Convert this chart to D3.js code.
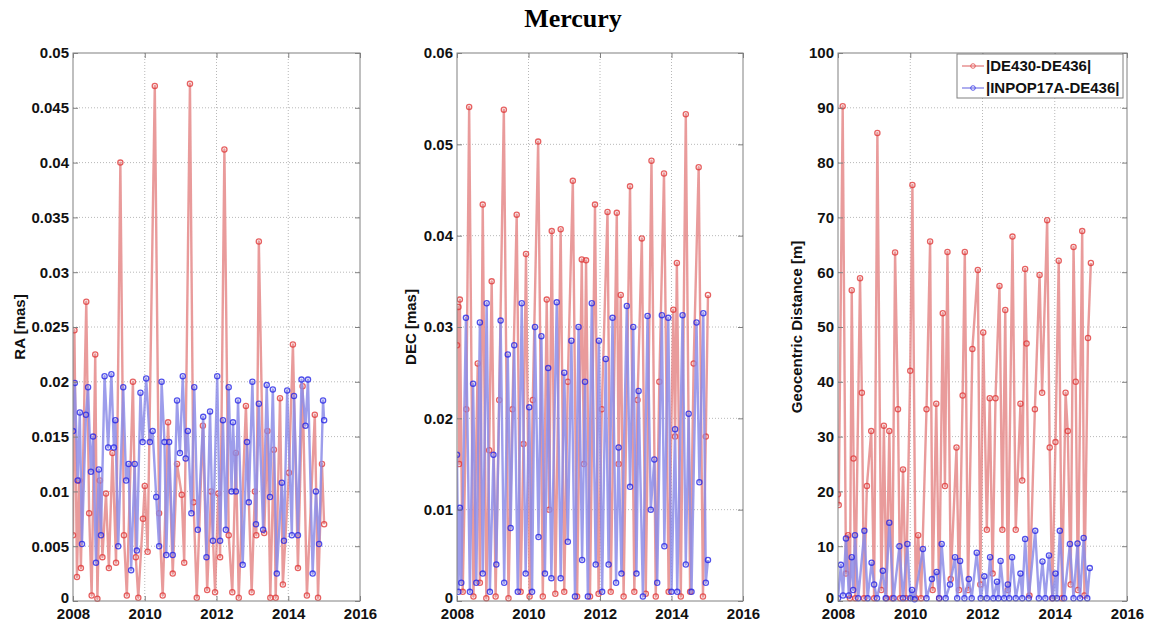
<!DOCTYPE html>
<html>
<head>
<meta charset="utf-8">
<script src="https://cdn.jsdelivr.net/npm/d3@7"></script>
<style>
  body { margin: 0; background: #fff; }
  svg { display: block; }
  .tick-label { font-family: "Liberation Sans", Arial, sans-serif; font-size: 15px; font-weight: bold; fill: #111; }
  .ylab { font-family: "Liberation Sans", Arial, sans-serif; font-size: 15px; font-weight: bold; fill: #111; }
</style>
</head>
<body>
<div id="chart"></div>
<script>
// ── Data: [year, value] turning points ───────────────────────────
const years = [2008, 2010, 2012, 2014, 2016];
const seriesNames = ["|DE430-DE436|", "|INPOP17A-DE436|"];

const raTicks   = [0, 0.005, 0.01, 0.015, 0.02, 0.025, 0.03, 0.035, 0.04, 0.045, 0.05];
const decTicks  = [0, 0.01, 0.02, 0.03, 0.04, 0.05, 0.06];
const distTicks = [0, 10, 20, 30, 40, 50, 60, 70, 80, 90, 100];

const raRed = [
  [2008.00,0.0060],[2008.04,0.0247],[2008.11,0.0022],[2008.17,0.0110],[2008.22,0.0030],
  [2008.37,0.0273],[2008.45,0.0080],[2008.52,0.0005],[2008.62,0.0225],[2008.68,0.0002],
  [2008.75,0.0110],[2008.82,0.0040],[2008.92,0.0098],[2009.00,0.0030],[2009.10,0.0135],
  [2009.20,0.0035],[2009.32,0.0400],[2009.42,0.0060],[2009.50,0.0005],[2009.67,0.0200],
  [2009.75,0.0040],[2009.82,0.0003],[2009.95,0.0075],[2010.00,0.0105],[2010.08,0.0045],
  [2010.28,0.0470],[2010.40,0.0080],[2010.50,0.0005],[2010.65,0.0163],[2010.78,0.0025],
  [2010.90,0.0125],[2011.03,0.0097],[2011.10,0.0035],[2011.26,0.0472],[2011.36,0.0090],
  [2011.45,0.0003],[2011.62,0.0160],[2011.74,0.0010],[2011.85,0.0100],[2011.96,0.0008],
  [2012.05,0.0098],[2012.10,0.0040],[2012.22,0.0412],[2012.34,0.0060],[2012.44,0.0008],
  [2012.54,0.0135],[2012.62,0.0003],[2012.82,0.0178],[2012.98,0.0008],[2013.07,0.0100],
  [2013.11,0.0060],[2013.18,0.0328],[2013.33,0.0062],[2013.42,0.0155],[2013.50,0.0003],
  [2013.60,0.0138],[2013.65,0.0003],[2013.77,0.0185],[2013.85,0.0015],[2014.02,0.0117],
  [2014.13,0.0234],[2014.27,0.0030],[2014.40,0.0196],[2014.52,0.0005],[2014.74,0.0170],
  [2014.83,0.0003],[2014.94,0.0125],[2015.00,0.0070]
];
const raBlue = [
  [2008.00,0.0155],[2008.05,0.0199],[2008.13,0.0110],[2008.19,0.0172],[2008.25,0.0052],
  [2008.36,0.0170],[2008.42,0.0195],[2008.50,0.0118],[2008.56,0.0150],[2008.64,0.0035],
  [2008.72,0.0120],[2008.78,0.0060],[2008.88,0.0205],[2008.98,0.0140],[2009.07,0.0207],
  [2009.14,0.0140],[2009.18,0.0165],[2009.26,0.0050],[2009.40,0.0195],[2009.48,0.0110],
  [2009.55,0.0125],[2009.62,0.0028],[2009.72,0.0125],[2009.78,0.0046],[2009.88,0.0190],
  [2009.94,0.0145],[2010.04,0.0203],[2010.14,0.0145],[2010.22,0.0155],[2010.32,0.0095],
  [2010.40,0.0050],[2010.47,0.0200],[2010.55,0.0145],[2010.60,0.0042],[2010.68,0.0145],
  [2010.78,0.0042],[2010.90,0.0183],[2010.98,0.0135],[2011.06,0.0205],[2011.14,0.0130],
  [2011.20,0.0155],[2011.30,0.0080],[2011.38,0.0195],[2011.48,0.0065],[2011.63,0.0168],
  [2011.72,0.0040],[2011.82,0.0173],[2011.90,0.0055],[2012.02,0.0205],[2012.10,0.0055],
  [2012.18,0.0165],[2012.26,0.0065],[2012.34,0.0195],[2012.42,0.0100],[2012.46,0.0163],
  [2012.54,0.0100],[2012.60,0.0183],[2012.73,0.0033],[2012.85,0.0145],[2012.90,0.0090],
  [2013.00,0.0200],[2013.10,0.0070],[2013.18,0.0180],[2013.30,0.0065],[2013.40,0.0197],
  [2013.49,0.0095],[2013.57,0.0193],[2013.68,0.0025],[2013.82,0.0108],[2013.88,0.0055],
  [2013.97,0.0192],[2014.10,0.0060],[2014.16,0.0187],[2014.27,0.0060],[2014.37,0.0202],
  [2014.48,0.0160],[2014.55,0.0202],[2014.68,0.0025],[2014.77,0.0100],[2014.86,0.0052],
  [2014.97,0.0183],[2015.00,0.0165]
];
const decRed = [
  [2008.00,0.0280],[2008.04,0.0322],[2008.06,0.0150],[2008.08,0.0330],[2008.16,0.0010],
  [2008.26,0.0210],[2008.34,0.0541],[2008.46,0.0005],[2008.58,0.0260],[2008.64,0.0020],
  [2008.72,0.0434],[2008.82,0.0003],[2008.90,0.0165],[2008.97,0.0350],[2009.08,0.0005],
  [2009.18,0.0220],[2009.31,0.0538],[2009.44,0.0003],[2009.55,0.0210],[2009.67,0.0423],
  [2009.78,0.0010],[2009.86,0.0172],[2009.93,0.0380],[2010.03,0.0005],[2010.12,0.0220],
  [2010.27,0.0503],[2010.40,0.0005],[2010.51,0.0330],[2010.58,0.0100],[2010.65,0.0405],
  [2010.75,0.0008],[2010.90,0.0407],[2011.00,0.0010],[2011.10,0.0240],[2011.24,0.0460],
  [2011.36,0.0005],[2011.49,0.0374],[2011.55,0.0150],[2011.61,0.0373],[2011.72,0.0005],
  [2011.86,0.0434],[2011.96,0.0008],[2012.05,0.0210],[2012.21,0.0426],[2012.30,0.0010],
  [2012.47,0.0425],[2012.52,0.0150],[2012.58,0.0335],[2012.66,0.0005],[2012.84,0.0454],
  [2012.96,0.0010],[2013.05,0.0220],[2013.17,0.0397],[2013.28,0.0008],[2013.44,0.0482],
  [2013.56,0.0005],[2013.66,0.0240],[2013.79,0.0468],[2013.92,0.0010],[2014.05,0.0319],
  [2014.10,0.0180],[2014.15,0.0370],[2014.26,0.0005],[2014.40,0.0533],[2014.52,0.0010],
  [2014.62,0.0260],[2014.76,0.0475],[2014.88,0.0005],[2014.96,0.0180],[2015.02,0.0335]
];
const decBlue = [
  [2008.00,0.0160],[2008.04,0.0010],[2008.08,0.0102],[2008.12,0.0020],[2008.25,0.0310],
  [2008.36,0.0010],[2008.45,0.0238],[2008.54,0.0020],[2008.64,0.0305],[2008.72,0.0030],
  [2008.83,0.0326],[2008.92,0.0010],[2009.02,0.0160],[2009.10,0.0040],[2009.22,0.0307],
  [2009.32,0.0020],[2009.42,0.0270],[2009.50,0.0080],[2009.60,0.0280],[2009.70,0.0010],
  [2009.81,0.0326],[2009.92,0.0030],[2010.02,0.0212],[2010.10,0.0010],[2010.18,0.0300],
  [2010.28,0.0070],[2010.36,0.0290],[2010.46,0.0030],[2010.55,0.0255],[2010.64,0.0025],
  [2010.79,0.0327],[2010.90,0.0025],[2011.00,0.0250],[2011.10,0.0065],[2011.20,0.0285],
  [2011.30,0.0005],[2011.40,0.0300],[2011.50,0.0045],[2011.58,0.0240],[2011.66,0.0005],
  [2011.77,0.0326],[2011.88,0.0040],[2011.97,0.0285],[2012.06,0.0010],[2012.16,0.0265],
  [2012.24,0.0040],[2012.35,0.0310],[2012.45,0.0020],[2012.52,0.0168],[2012.60,0.0030],
  [2012.75,0.0323],[2012.84,0.0125],[2012.93,0.0300],[2013.02,0.0030],[2013.08,0.0230],
  [2013.20,0.0005],[2013.33,0.0312],[2013.42,0.0100],[2013.52,0.0155],[2013.60,0.0020],
  [2013.73,0.0313],[2013.80,0.0060],[2013.91,0.0310],[2014.00,0.0010],[2014.10,0.0188],
  [2014.16,0.0010],[2014.31,0.0313],[2014.40,0.0040],[2014.48,0.0205],[2014.56,0.0010],
  [2014.70,0.0305],[2014.78,0.0130],[2014.89,0.0315],[2014.96,0.0020],[2015.02,0.0045]
];
const distRed = [
  [2008.00,19.5],[2008.02,17.5],[2008.13,90.3],[2008.22,5.0],[2008.28,12.0],[2008.33,0.5],
  [2008.38,56.7],[2008.43,26.0],[2008.48,0.5],[2008.61,58.9],[2008.66,38.0],[2008.72,0.5],
  [2008.80,21.0],[2008.92,31.0],[2009.00,0.5],[2009.09,85.4],[2009.20,2.0],[2009.27,32.0],
  [2009.34,0.5],[2009.42,31.0],[2009.50,0.5],[2009.58,63.6],[2009.66,35.0],[2009.72,0.5],
  [2009.80,24.0],[2009.88,0.5],[2010.00,42.0],[2010.06,75.9],[2010.15,0.5],[2010.22,12.0],
  [2010.30,0.5],[2010.45,35.0],[2010.55,65.6],[2010.62,2.0],[2010.72,36.0],[2010.80,0.5],
  [2010.90,52.5],[2010.96,21.0],[2011.03,63.7],[2011.12,4.0],[2011.28,28.0],[2011.35,2.0],
  [2011.45,37.5],[2011.51,63.7],[2011.60,2.0],[2011.72,46.0],[2011.87,60.4],[2011.94,3.0],
  [2012.02,49.0],[2012.12,13.0],[2012.20,37.0],[2012.28,5.0],[2012.36,37.0],[2012.47,57.5],
  [2012.55,13.0],[2012.63,53.1],[2012.70,2.0],[2012.83,66.5],[2012.92,13.0],[2013.05,36.0],
  [2013.10,22.0],[2013.18,60.6],[2013.22,47.0],[2013.30,1.0],[2013.45,35.0],[2013.58,59.5],
  [2013.65,38.0],[2013.79,69.5],[2013.86,28.0],[2013.93,0.5],[2014.02,29.0],[2014.11,62.1],
  [2014.20,0.5],[2014.30,38.0],[2014.36,31.0],[2014.44,3.0],[2014.52,64.6],[2014.58,40.0],
  [2014.64,2.0],[2014.76,67.5],[2014.82,1.0],[2014.92,48.0],[2015.00,61.7]
];
const distBlue = [
  [2008.00,0.5],[2008.08,6.6],[2008.14,1.0],[2008.22,11.4],[2008.30,1.0],[2008.38,8.0],
  [2008.42,2.0],[2008.47,12.0],[2008.56,0.5],[2008.73,12.8],[2008.82,0.5],[2008.93,7.0],
  [2009.00,3.0],[2009.08,0.5],[2009.24,5.5],[2009.32,0.5],[2009.42,14.3],[2009.54,0.5],
  [2009.70,10.0],[2009.80,0.5],[2009.92,10.4],[2010.00,0.5],[2010.05,2.0],[2010.12,0.3],
  [2010.35,9.5],[2010.45,0.5],[2010.60,4.0],[2010.73,5.3],[2010.80,0.5],[2010.87,10.4],
  [2010.98,0.5],[2011.10,3.0],[2011.24,8.0],[2011.30,0.5],[2011.38,7.3],[2011.50,0.5],
  [2011.62,4.0],[2011.70,0.5],[2011.84,8.8],[2011.95,0.5],[2012.05,4.5],[2012.12,0.5],
  [2012.21,8.0],[2012.30,0.5],[2012.40,3.5],[2012.44,0.5],[2012.50,7.3],[2012.60,0.5],
  [2012.70,3.0],[2012.74,0.5],[2012.82,8.0],[2012.92,0.5],[2013.05,5.0],[2013.10,0.5],
  [2013.18,11.3],[2013.28,0.5],[2013.46,12.8],[2013.56,0.5],[2013.66,7.2],[2013.74,0.5],
  [2013.84,8.3],[2013.94,0.5],[2014.02,5.0],[2014.06,0.5],[2014.14,12.8],[2014.26,0.5],
  [2014.42,10.4],[2014.52,0.5],[2014.63,10.5],[2014.70,0.5],[2014.80,11.5],[2014.90,0.5],
  [2014.97,6.0]
];

// ── Styling ──────────────────────────────────────────────────────
const RED  = { line: "#e58a8a", mark: "#e03a3a" };
const BLUE = { line: "#8c8ce8", mark: "#2626e6" };

const width = 1149, height = 623;
const svg = d3.select("#chart").append("svg")
    .attr("width", width).attr("height", height);

svg.append("text")
    .attr("x", 573).attr("y", 27)
    .attr("text-anchor", "middle")
    .style("font-family", "'Liberation Serif', 'Times New Roman', serif")
    .style("font-size", "26px").style("font-weight", "bold")
    .text("Mercury");

function drawPanel(cfg) {
    const { left, right, top, bottom } = cfg;
    const x = d3.scaleLinear().domain([2008, 2016]).range([left, right]);
    const y = d3.scaleLinear().domain(cfg.domain).range([bottom, top]);
    const g = svg.append("g");
    const id = "clip" + cfg.key;

    svg.append("clipPath").attr("id", id)
        .append("rect").attr("x", left).attr("y", top - 3)
        .attr("width", right - left).attr("height", bottom - top + 6);

    // Gridlines (dotted, MATLAB style)
    g.selectAll("line.gx").data(years.slice(1, -1)).join("line")
        .attr("x1", d => x(d)).attr("x2", d => x(d))
        .attr("y1", top).attr("y2", bottom)
        .attr("stroke", "#b8b8b8").attr("stroke-dasharray", "1,2");
    g.selectAll("line.gy").data(cfg.ticks.slice(1, -1)).join("line")
        .attr("x1", left).attr("x2", right)
        .attr("y1", d => y(d)).attr("y2", d => y(d))
        .attr("stroke", "#b8b8b8").attr("stroke-dasharray", "1,2");

    // Series: red first, blue on top
    const line = d3.line().x(d => x(d[0])).y(d => y(d[1]));
    const plot = g.append("g").attr("clip-path", `url(#${id})`);
    [[cfg.red, RED], [cfg.blue, BLUE]].forEach(([data, col]) => {
        plot.append("path").datum(data)
            .attr("d", line).attr("fill", "none")
            .attr("stroke", col.line).attr("stroke-width", 2.4)
            .attr("stroke-linejoin", "round").attr("opacity", 0.85);
        plot.selectAll(null).data(data).join("circle")
            .attr("cx", d => x(d[0])).attr("cy", d => y(d[1]))
            .attr("r", 2.6).attr("fill", "none")
            .attr("stroke", col.mark).attr("stroke-width", 1.3)
            .attr("opacity", 0.8);
    });

    // Box + inward ticks on all sides
    g.append("rect").attr("x", left).attr("y", top)
        .attr("width", right - left).attr("height", bottom - top)
        .attr("fill", "none").attr("stroke", "#808080");
    const axB = d3.axisBottom(x).tickValues(years).tickSize(-5).tickFormat(d3.format("d"));
    const axT = d3.axisTop(x).tickValues(years).tickSize(-5).tickFormat("");
    const axL = d3.axisLeft(y).tickValues(cfg.ticks).tickSize(-5).tickFormat(d => d3.format("")(+d.toFixed(4)));
    const axR = d3.axisRight(y).tickValues(cfg.ticks).tickSize(-5).tickFormat("");
    [[axB, "b", `translate(0,${bottom})`], [axT, "t", `translate(0,${top})`],
     [axL, "l", `translate(${left},0)`], [axR, "r", `translate(${right},0)`]].forEach(([ax, side, tr]) => {
        const a = g.append("g").attr("transform", tr).call(ax);
        a.select(".domain").remove();
        a.selectAll("line").attr("stroke", "#808080");
        a.selectAll("text").attr("class", "tick-label").style("font-size", null)
            .style("font-family", null).attr("fill", null);
        if (side === "b") a.selectAll("text").attr("y", 7.5);
        if (side === "l") a.selectAll("text").attr("x", -4)
            .attr("dy", d => d === 0 ? "0.12em" : "0.32em");
    });

    // Y-axis label
    g.append("text").attr("class", "ylab")
        .attr("transform", `translate(${cfg.labelX},${(top + bottom) / 2}) rotate(-90)`)
        .attr("text-anchor", "middle").attr("dy", "0.35em")
        .text(cfg.label);
}

drawPanel({ key: "ra",  left: 73,  right: 360,  top: 53, bottom: 601, domain: [0, 0.05],
            ticks: raTicks, red: raRed, blue: raBlue, label: "RA [mas]", labelX: 20 });
drawPanel({ key: "dec", left: 457, right: 743,  top: 53, bottom: 601, domain: [0, 0.06],
            ticks: decTicks, red: decRed, blue: decBlue, label: "DEC [mas]", labelX: 411 });
drawPanel({ key: "dist", left: 838, right: 1127, top: 53, bottom: 601, domain: [0, 100],
            ticks: distTicks, red: distRed, blue: distBlue, label: "Geocentric Distance [m]", labelX: 797 });

// Legend
const legend = svg.append("g");
legend.append("rect").attr("x", 957).attr("y", 54).attr("width", 166).attr("height", 44)
    .attr("fill", "#fff").attr("stroke", "#808080");
[RED, BLUE].forEach((col, i) => {
    const row = legend.append("g").attr("transform", `translate(962,${66 + i * 22})`);
    row.append("line").attr("x1", 0).attr("x2", 22).attr("stroke", col.line).attr("stroke-width", 1.4);
    row.append("circle").attr("cx", 11).attr("r", 2.3).attr("fill", "none")
        .attr("stroke", col.mark).attr("opacity", 0.75);
    row.append("text").attr("class", "tick-label").attr("x", 24).attr("dy", "0.36em")
        .text(seriesNames[i]);
});
</script>
</body>
</html>
